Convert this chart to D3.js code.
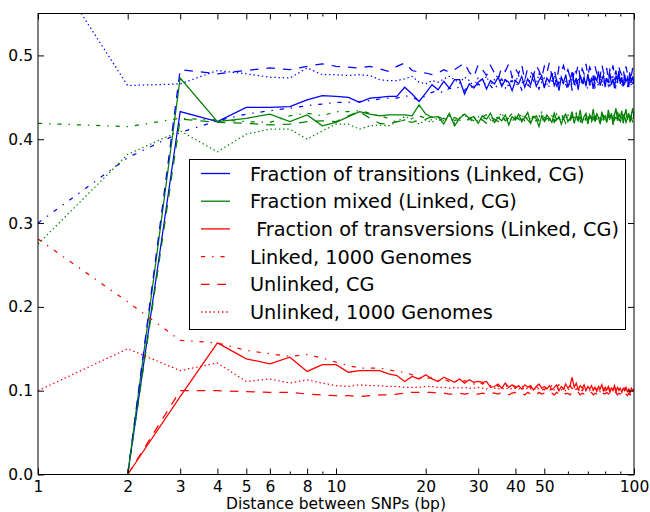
<!DOCTYPE html>
<html>
<head>
<meta charset="utf-8">
<script src="https://cdn.jsdelivr.net/npm/d3@7"></script>
<style>
  body { margin: 0; background: #fff; }
  svg { font-family: "DejaVu Sans", sans-serif; }
</style>
</head>
<body>
<script>
// values, one entry per integer distance
// solid / dashed series start at x = 2, dash-dot / dotted at x = 1

const blueLinkedCG = [
  0, 0.433, 0.421, 0.438, 0.438, 0.439, 0.447, 0.452, 0.451,
  0.450, 0.444, 0.449, 0.450, 0.451, 0.451, 0.462, 0.454, 0.445, 0.455,
  0.465, 0.459, 0.469, 0.461, 0.471, 0.471, 0.454, 0.466, 0.461, 0.468,
  0.472, 0.460, 0.470, 0.466, 0.474, 0.463, 0.471, 0.468, 0.458, 0.470,
  0.466, 0.475, 0.462, 0.472, 0.465, 0.478, 0.463, 0.470, 0.476, 0.461,
  0.473, 0.468, 0.479, 0.464, 0.471, 0.458, 0.474, 0.467, 0.477, 0.462,
  0.470, 0.480, 0.465, 0.473, 0.459, 0.476, 0.468, 0.474, 0.463, 0.478,
  0.466, 0.472, 0.460, 0.475, 0.469, 0.481, 0.464, 0.471, 0.476, 0.462,
  0.473, 0.467, 0.479, 0.465, 0.472, 0.461, 0.476, 0.470, 0.482, 0.466,
  0.474, 0.463, 0.477, 0.469, 0.473, 0.462, 0.478, 0.468, 0.475, 0.466
];
const blueUnlinkedCG = [
  0, 0.483, 0.478, 0.482, 0.485, 0.483, 0.487, 0.490, 0.487,
  0.486, 0.485, 0.487, 0.484, 0.481, 0.487, 0.491, 0.482, 0.480, 0.479,
  0.477, 0.479, 0.483, 0.480, 0.483, 0.487, 0.491, 0.480, 0.474, 0.489,
  0.483, 0.476, 0.488, 0.479, 0.472, 0.486, 0.481, 0.490, 0.474, 0.484,
  0.478, 0.489, 0.470, 0.485, 0.480, 0.476, 0.488, 0.482, 0.473, 0.487,
  0.479, 0.491, 0.475, 0.484, 0.469, 0.486, 0.480, 0.488, 0.477, 0.483,
  0.474, 0.458, 0.485, 0.479, 0.489, 0.472, 0.484, 0.478, 0.490, 0.476,
  0.486, 0.481, 0.470, 0.487, 0.479, 0.483, 0.474, 0.489, 0.480, 0.476,
  0.485, 0.471, 0.483, 0.478, 0.488, 0.475, 0.482, 0.467, 0.486, 0.480,
  0.477, 0.484, 0.473, 0.487, 0.479, 0.470, 0.483, 0.476, 0.485, 0.478
];
const blueLinked1000G = [
  0.300, 0.378, 0.408, 0.422, 0.430, 0.434, 0.437, 0.440, 0.442, 0.444,
  0.444, 0.445, 0.446, 0.448, 0.449, 0.449, 0.452, 0.450, 0.446, 0.452,
  0.456, 0.458, 0.455, 0.461, 0.459, 0.463, 0.458, 0.465, 0.460, 0.466,
  0.462, 0.469, 0.464, 0.458, 0.467, 0.472, 0.461, 0.466, 0.470, 0.463,
  0.468, 0.459, 0.471, 0.465, 0.462, 0.470, 0.466, 0.460, 0.473, 0.464,
  0.469, 0.462, 0.467, 0.474, 0.461, 0.468, 0.463, 0.471, 0.466, 0.459,
  0.472, 0.465, 0.469, 0.461, 0.474, 0.467, 0.463, 0.470, 0.465, 0.460,
  0.471, 0.466, 0.473, 0.462, 0.468, 0.464, 0.475, 0.467, 0.461, 0.470,
  0.465, 0.472, 0.463, 0.469, 0.474, 0.466, 0.460, 0.471, 0.467, 0.473,
  0.464, 0.470, 0.466, 0.475, 0.462, 0.469, 0.465, 0.472, 0.467, 0.470
];
const blueUnlinked1000G = [
  0.630, 0.464, 0.466, 0.482, 0.478, 0.474, 0.473, 0.485, 0.477, 0.477,
  0.476, 0.477, 0.476, 0.471, 0.470, 0.470, 0.472, 0.475, 0.468, 0.466,
  0.470, 0.468, 0.472, 0.475, 0.471, 0.467, 0.474, 0.470, 0.463, 0.473,
  0.468, 0.475, 0.465, 0.471, 0.477, 0.466, 0.472, 0.462, 0.474, 0.469,
  0.476, 0.467, 0.471, 0.463, 0.475, 0.470, 0.466, 0.478, 0.468, 0.473,
  0.465, 0.472, 0.469, 0.476, 0.464, 0.471, 0.474, 0.467, 0.470, 0.462,
  0.475, 0.469, 0.473, 0.466, 0.471, 0.477, 0.465, 0.472, 0.468, 0.474,
  0.463, 0.470, 0.476, 0.467, 0.472, 0.465, 0.469, 0.475, 0.466, 0.471,
  0.473, 0.464, 0.470, 0.476, 0.468, 0.472, 0.463, 0.469, 0.474, 0.467,
  0.471, 0.465, 0.473, 0.468, 0.476, 0.466, 0.470, 0.464, 0.472, 0.469
];

const greenLinkedCG = [
  0, 0.473, 0.421, 0.425, 0.430, 0.421, 0.429, 0.416, 0.420,
  0.427, 0.433, 0.430, 0.428, 0.429, 0.429, 0.429, 0.428, 0.441, 0.430,
  0.426, 0.427, 0.418, 0.431, 0.416, 0.425, 0.430, 0.425, 0.427, 0.419,
  0.428, 0.424, 0.431, 0.420, 0.426, 0.422, 0.429, 0.417, 0.427, 0.423,
  0.430, 0.421, 0.426, 0.432, 0.419, 0.427, 0.424, 0.415, 0.428, 0.422,
  0.429, 0.425, 0.420, 0.431, 0.423, 0.427, 0.418, 0.426, 0.430, 0.421,
  0.425, 0.433, 0.419, 0.428, 0.423, 0.435, 0.420, 0.427, 0.431, 0.418,
  0.429, 0.424, 0.436, 0.421, 0.430, 0.426, 0.419, 0.433, 0.424, 0.428,
  0.420, 0.435, 0.425, 0.431, 0.417, 0.429, 0.437, 0.422, 0.430, 0.426,
  0.434, 0.419, 0.428, 0.436, 0.423, 0.431, 0.420, 0.429, 0.437, 0.425
];
const greenUnlinkedCG = [
  0, 0.424, 0.420, 0.419, 0.417, 0.418, 0.421, 0.422, 0.421,
  0.428, 0.433, 0.425, 0.419, 0.418, 0.421, 0.422, 0.420, 0.423, 0.424,
  0.427, 0.422, 0.425, 0.421, 0.426, 0.423, 0.420, 0.425, 0.422, 0.427,
  0.423, 0.419, 0.426, 0.424, 0.421, 0.428, 0.422, 0.425, 0.420, 0.426,
  0.424, 0.421, 0.427, 0.423, 0.419, 0.425, 0.428, 0.422, 0.426, 0.421,
  0.425, 0.423, 0.428, 0.420, 0.424, 0.427, 0.422, 0.425, 0.419, 0.426,
  0.423, 0.428, 0.421, 0.425, 0.422, 0.427, 0.424, 0.420, 0.426, 0.423,
  0.428, 0.421, 0.425, 0.422, 0.427, 0.424, 0.419, 0.426, 0.423, 0.425,
  0.421, 0.427, 0.424, 0.420, 0.426, 0.423, 0.428, 0.422, 0.425, 0.421,
  0.426, 0.423, 0.427, 0.420, 0.425, 0.422, 0.428, 0.424, 0.421, 0.426
];
const greenLinked1000G = [
  0.419, 0.415, 0.425, 0.423, 0.421, 0.420, 0.428, 0.431, 0.428, 0.433,
  0.433, 0.434, 0.431, 0.428, 0.425, 0.420, 0.423, 0.425, 0.428, 0.425,
  0.423, 0.427, 0.424, 0.429, 0.422, 0.426, 0.430, 0.424, 0.427, 0.421,
  0.426, 0.430, 0.423, 0.427, 0.425, 0.429, 0.422, 0.426, 0.431, 0.424,
  0.428, 0.423, 0.426, 0.430, 0.422, 0.427, 0.425, 0.429, 0.421, 0.426,
  0.430, 0.424, 0.427, 0.422, 0.428, 0.425, 0.431, 0.423, 0.426, 0.429,
  0.422, 0.427, 0.424, 0.430, 0.425, 0.421, 0.428, 0.426, 0.423, 0.429,
  0.425, 0.431, 0.422, 0.427, 0.424, 0.429, 0.426, 0.421, 0.428, 0.425,
  0.430, 0.423, 0.426, 0.429, 0.422, 0.427, 0.425, 0.431, 0.424, 0.428,
  0.422, 0.427, 0.430, 0.424, 0.426, 0.429, 0.423, 0.428, 0.425, 0.427
];
const greenUnlinked1000G = [
  0.275, 0.382, 0.410, 0.385, 0.406, 0.412, 0.412, 0.400, 0.410, 0.418,
  0.418, 0.412, 0.416, 0.417, 0.416, 0.421, 0.427, 0.424, 0.418, 0.423,
  0.420, 0.426, 0.422, 0.428, 0.419, 0.425, 0.430, 0.421, 0.424, 0.427,
  0.422, 0.429, 0.424, 0.420, 0.427, 0.431, 0.423, 0.426, 0.421, 0.428,
  0.425, 0.430, 0.422, 0.427, 0.424, 0.429, 0.420, 0.426, 0.432, 0.423,
  0.427, 0.421, 0.428, 0.425, 0.430, 0.422, 0.426, 0.429, 0.424, 0.427,
  0.421, 0.428, 0.425, 0.431, 0.423, 0.427, 0.420, 0.426, 0.430, 0.424,
  0.428, 0.422, 0.427, 0.425, 0.431, 0.423, 0.426, 0.429, 0.421, 0.427,
  0.424, 0.430, 0.422, 0.428, 0.425, 0.432, 0.423, 0.427, 0.421, 0.429,
  0.425, 0.430, 0.423, 0.428, 0.426, 0.431, 0.422, 0.427, 0.424, 0.429
];

const redLinkedCG = [
  0, 0.093, 0.157, 0.138, 0.132, 0.140, 0.123, 0.131, 0.131,
  0.122, 0.124, 0.124, 0.124, 0.120, 0.118, 0.111, 0.117, 0.114, 0.119,
  0.114, 0.111, 0.116, 0.113, 0.110, 0.114, 0.109, 0.113, 0.110, 0.111,
  0.110, 0.111, 0.104, 0.105, 0.108, 0.103, 0.109, 0.104, 0.107, 0.103,
  0.106, 0.102, 0.107, 0.104, 0.106, 0.101, 0.105, 0.108, 0.103, 0.105,
  0.102, 0.106, 0.101, 0.104, 0.107, 0.100, 0.105, 0.102, 0.108, 0.103,
  0.106, 0.116, 0.104, 0.109, 0.101, 0.106, 0.103, 0.107, 0.100, 0.105,
  0.102, 0.106, 0.101, 0.104, 0.099, 0.105, 0.102, 0.107, 0.100, 0.104,
  0.101, 0.105, 0.098, 0.103, 0.100, 0.106, 0.099, 0.104, 0.101, 0.103,
  0.098, 0.103, 0.100, 0.104, 0.099, 0.102, 0.097, 0.103, 0.100, 0.102
];
const redUnlinkedCG = [
  0, 0.100, 0.100, 0.099, 0.098, 0.098, 0.096, 0.095, 0.094,
  0.094, 0.093, 0.094, 0.095, 0.095, 0.096, 0.097, 0.098, 0.098, 0.098,
  0.098, 0.097, 0.097, 0.096, 0.096, 0.097, 0.096, 0.097, 0.096, 0.096,
  0.097, 0.096, 0.098, 0.097, 0.096, 0.098, 0.097, 0.095, 0.097, 0.098,
  0.096, 0.097, 0.095, 0.098, 0.096, 0.097, 0.095, 0.098, 0.096, 0.097,
  0.098, 0.096, 0.097, 0.095, 0.098, 0.096, 0.097, 0.099, 0.096, 0.097,
  0.095, 0.098, 0.097, 0.096, 0.098, 0.095, 0.097, 0.096, 0.098, 0.097,
  0.096, 0.098, 0.095, 0.097, 0.096, 0.098, 0.097, 0.095, 0.097, 0.096,
  0.098, 0.096, 0.097, 0.095, 0.097, 0.096, 0.098, 0.095, 0.097, 0.096,
  0.097, 0.095, 0.098, 0.096, 0.094, 0.097, 0.095, 0.096, 0.094, 0.096
];
const redLinked1000G = [
  0.281, 0.206, 0.160, 0.157, 0.148, 0.144, 0.141, 0.143, 0.139, 0.134,
  0.130, 0.127, 0.127, 0.127, 0.125, 0.123, 0.122, 0.119, 0.116, 0.114,
  0.116, 0.112, 0.114, 0.111, 0.113, 0.109, 0.112, 0.110, 0.108, 0.111,
  0.108, 0.110, 0.106, 0.109, 0.105, 0.108, 0.106, 0.104, 0.107, 0.105,
  0.103, 0.106, 0.104, 0.107, 0.103, 0.105, 0.102, 0.106, 0.104, 0.101,
  0.105, 0.103, 0.106, 0.102, 0.104, 0.107, 0.103, 0.101, 0.105, 0.103,
  0.106, 0.102, 0.104, 0.101, 0.105, 0.103, 0.100, 0.104, 0.102, 0.105,
  0.101, 0.103, 0.100, 0.104, 0.102, 0.099, 0.103, 0.101, 0.104, 0.100,
  0.102, 0.099, 0.103, 0.101, 0.100, 0.104, 0.099, 0.102, 0.100, 0.103,
  0.099, 0.101, 0.103, 0.100, 0.098, 0.102, 0.100, 0.101, 0.099, 0.101
];
const redUnlinked1000G = [
  0.100, 0.150, 0.124, 0.133, 0.111, 0.114, 0.109, 0.113, 0.109, 0.106,
  0.105, 0.107, 0.106, 0.106, 0.105, 0.105, 0.104, 0.104, 0.104, 0.105,
  0.105, 0.104, 0.104, 0.103, 0.104, 0.103, 0.104, 0.103, 0.103, 0.104,
  0.103, 0.102, 0.104, 0.103, 0.102, 0.103, 0.102, 0.103, 0.102, 0.103,
  0.102, 0.103, 0.101, 0.103, 0.102, 0.101, 0.103, 0.102, 0.101, 0.102,
  0.103, 0.101, 0.102, 0.101, 0.103, 0.102, 0.101, 0.102, 0.100, 0.102,
  0.101, 0.103, 0.101, 0.102, 0.100, 0.102, 0.101, 0.100, 0.102, 0.101,
  0.100, 0.102, 0.101, 0.100, 0.102, 0.101, 0.099, 0.101, 0.100, 0.102,
  0.101, 0.099, 0.101, 0.100, 0.102, 0.100, 0.099, 0.101, 0.100, 0.101,
  0.099, 0.101, 0.100, 0.102, 0.099, 0.100, 0.101, 0.099, 0.100, 0.101
];

const xLabelTicks = [1, 2, 3, 4, 5, 6, 8, 10, 20, 30, 40, 50, 100];
const xMinorTicks = [7, 9, 60, 70, 80, 90];
const yTicks = [0, 0.1, 0.2, 0.3, 0.4, 0.5];
const legendLabels = [
  "Fraction of transitions (Linked, CG)",
  "Fraction mixed (Linked, CG)",
  "\u00a0Fraction of transversions (Linked, CG)",
  "Linked, 1000 Genomes",
  "Unlinked, CG",
  "Unlinked, 1000 Genomes"
];

const width = 650, height = 512;
const plotL = 38, plotR = 634, plotT = 13.5, plotB = 474.5;

const dashes = {
  solid: null,
  dashdot: "4.2,6.9,1.4,6.9",
  dashed: "8.5,8",
  dotted: "1.4,2.8"
};

const series = [
  { v: blueLinkedCG, start: 2, color: "#0000ff", style: "solid" },
  { v: greenLinkedCG, start: 2, color: "#008000", style: "solid" },
  { v: redLinkedCG, start: 2, color: "#ff0000", style: "solid" },
  { v: blueLinked1000G, start: 1, color: "#0000ff", style: "dashdot" },
  { v: greenLinked1000G, start: 1, color: "#008000", style: "dashdot" },
  { v: redLinked1000G, start: 1, color: "#ff0000", style: "dashdot" },
  { v: blueUnlinkedCG, start: 2, color: "#0000ff", style: "dashed" },
  { v: greenUnlinkedCG, start: 2, color: "#008000", style: "dashed" },
  { v: redUnlinkedCG, start: 2, color: "#ff0000", style: "dashed" },
  { v: blueUnlinked1000G, start: 1, color: "#0000ff", style: "dotted" },
  { v: greenUnlinked1000G, start: 1, color: "#008000", style: "dotted" },
  { v: redUnlinked1000G, start: 1, color: "#ff0000", style: "dotted" }
];

const svg = d3.select("body").append("svg")
  .attr("width", width)
  .attr("height", height);

const x = d3.scaleLog().domain([1, 100]).range([plotL, plotR]);
const y = d3.scaleLinear().domain([0, 0.55]).range([plotB, plotT]);

svg.append("clipPath").attr("id", "plot")
  .append("rect")
  .attr("x", plotL).attr("y", plotT)
  .attr("width", plotR - plotL).attr("height", plotB - plotT);

const line = d3.line()
  .x(d => x(d[0]))
  .y(d => y(d[1]));

svg.append("g")
  .attr("clip-path", "url(#plot)")
  .selectAll("path")
  .data(series)
  .enter()
  .append("path")
  .attr("d", s => line(s.v.map((val, i) => [s.start + i, val])))
  .attr("fill", "none")
  .attr("stroke", s => s.color)
  .attr("stroke-width", 1.25)
  .attr("stroke-dasharray", s => dashes[s.style]);

// axes, ticks pointing inward like matplotlib
const fmtY = d3.format(".1f");

svg.append("g")
  .attr("transform", `translate(0,${plotB})`)
  .call(d3.axisBottom(x).tickValues(xLabelTicks).tickFormat(d3.format("d"))
    .tickSize(-6).tickPadding(6.5));
svg.append("g")
  .attr("transform", `translate(0,${plotB})`)
  .call(d3.axisBottom(x).tickValues(xMinorTicks).tickFormat("").tickSize(-3));
svg.append("g")
  .attr("transform", `translate(0,${plotT})`)
  .call(d3.axisTop(x).tickValues(xLabelTicks).tickFormat("").tickSize(-6));
svg.append("g")
  .attr("transform", `translate(0,${plotT})`)
  .call(d3.axisTop(x).tickValues(xMinorTicks).tickFormat("").tickSize(-3));

svg.append("g")
  .attr("transform", `translate(${plotL},0)`)
  .call(d3.axisLeft(y).tickValues(yTicks).tickFormat(fmtY)
    .tickSize(-6).tickPadding(5));
svg.append("g")
  .attr("transform", `translate(${plotR},0)`)
  .call(d3.axisRight(y).tickValues(yTicks).tickFormat("").tickSize(-6));

svg.selectAll(".domain").remove();
svg.selectAll(".tick line").attr("stroke", "#000").attr("stroke-width", 1);
svg.selectAll(".tick text")
  .attr("fill", "#000")
  .style("font-size", "15.5px")
  .style("font-family", "DejaVu Sans, sans-serif");

svg.append("rect")
  .attr("x", plotL).attr("y", plotT)
  .attr("width", plotR - plotL).attr("height", plotB - plotT)
  .attr("fill", "none")
  .attr("stroke", "#000")
  .attr("stroke-width", 1);

svg.append("text")
  .attr("x", (plotL + plotR) / 2)
  .attr("y", 508.5)
  .attr("text-anchor", "middle")
  .style("font-size", "15.5px")
  .text("Distance between SNPs (bp)");

// legend
const legendEntries = [
  { color: "#0000ff", style: "solid" },
  { color: "#008000", style: "solid" },
  { color: "#ff0000", style: "solid" },
  { color: "#ff0000", style: "dashdot" },
  { color: "#ff0000", style: "dashed" },
  { color: "#ff0000", style: "dotted" }
];

const legend = svg.append("g");
legend.append("rect")
  .attr("x", 189.5).attr("y", 159.5)
  .attr("width", 436).attr("height", 170)
  .attr("fill", "#fff")
  .attr("stroke", "#000")
  .attr("stroke-width", 1);

const rows = legend.selectAll("g.row")
  .data(legendEntries)
  .enter().append("g")
  .attr("class", "row")
  .attr("transform", (d, i) => `translate(0,${173.5 + i * 27.7})`);

rows.append("line")
  .attr("x1", 201).attr("x2", 230)
  .attr("y1", 0).attr("y2", 0)
  .attr("stroke", d => d.color)
  .attr("stroke-width", 1.3)
  .attr("stroke-dasharray", d => dashes[d.style]);

rows.append("text")
  .attr("x", 250)
  .attr("y", 7)
  .style("font-size", "19.3px")
  .text((d, i) => legendLabels[i]);
</script>
</body>
</html>
